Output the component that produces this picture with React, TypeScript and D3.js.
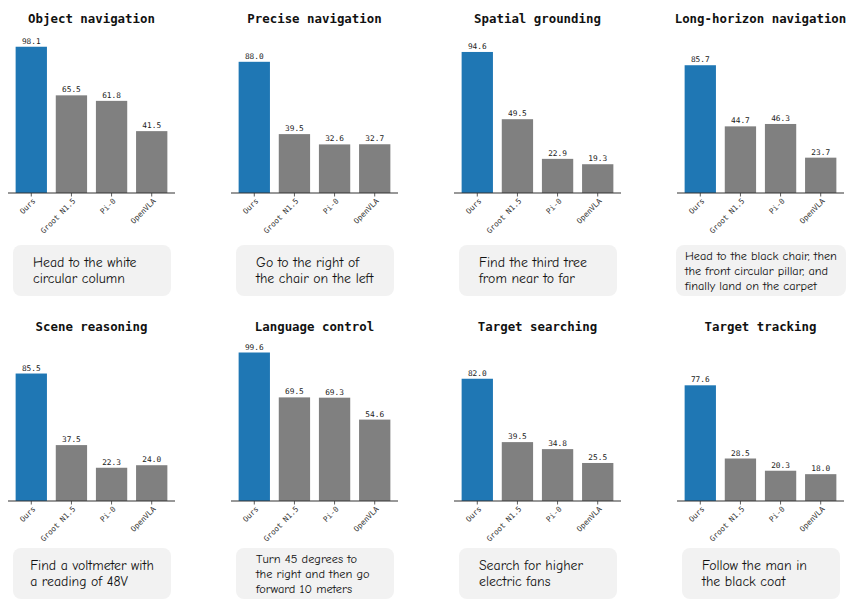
import React, { useRef, useEffect } from 'react';
import * as d3 from 'd3';

const methods = ['Ours', 'Groot N1.5', 'Pi-0', 'OpenVLA'];

const tasks = [
  'Object navigation', 'Precise navigation', 'Spatial grounding', 'Long-horizon navigation',
  'Scene reasoning', 'Language control', 'Target searching', 'Target tracking',
];

const scores = [
  [98.1, 65.5, 61.8, 41.5],
  [88.0, 39.5, 32.6, 32.7],
  [94.6, 49.5, 22.9, 19.3],
  [85.7, 44.7, 46.3, 23.7],
  [85.5, 37.5, 22.3, 24.0],
  [99.6, 69.5, 69.3, 54.6],
  [82.0, 39.5, 34.8, 25.5],
  [77.6, 28.5, 20.3, 18.0],
];

const captions = [
  ['Head to the white', 'circular column'],
  ['Go to the right of', 'the chair on the left'],
  ['Find the third tree', 'from near to far'],
  ['Head to the black chair, then', 'the front circular pillar, and', 'finally land on the carpet'],
  ['Find a voltmeter with', 'a reading of 48V'],
  ['Turn 45 degrees to', 'the right and then go', 'forward 10 meters'],
  ['Search for higher', 'electric fans'],
  ['Follow the man in', 'the black coat'],
];

const W = 865;
const H = 608;
const MONO = '"DejaVu Sans Mono", "Liberation Mono", monospace';
const HAND = '"Comic Sans MS", "Comic Neue", "Noto Sans", sans-serif';

export default function App() {
  const ref = useRef<SVGSVGElement>(null);

  useEffect(() => {
    document.body.style.margin = '0';
    const svg = d3.select(ref.current);
    svg.selectAll('*').remove();

    const y = d3.scaleLinear().domain([0, 110]);

    tasks.forEach((task, i) => {
      const col = i % 4;
      const row = Math.floor(i / 4);
      const left = 8 + col * 223;
      const base = 193 + row * 308;
      const ys = y.copy().range([base, base - 164]);
      const x = d3.scaleBand<string>()
        .domain(methods)
        .range([left, left + 167])
        .paddingInner(0.22)
        .paddingOuter(0.19);

      const g = svg.append('g');

      g.append('text')
        .attr('x', left + 83.5)
        .attr('y', base - 170)
        .attr('text-anchor', 'middle')
        .attr('font-family', MONO)
        .attr('font-weight', 'bold')
        .attr('font-size', 12.4)
        .attr('fill', '#111')
        .text(task);

      g.selectAll('rect.bar')
        .data(scores[i])
        .join('rect')
        .attr('class', 'bar')
        .attr('x', (_, j) => x(methods[j])!)
        .attr('y', d => ys(d))
        .attr('width', x.bandwidth())
        .attr('height', d => base - ys(d))
        .attr('fill', (_, j) => (j === 0 ? '#1f77b4' : '#808080'));

      g.selectAll('text.val')
        .data(scores[i])
        .join('text')
        .attr('class', 'val')
        .attr('x', (_, j) => x(methods[j])! + x.bandwidth() / 2)
        .attr('y', d => ys(d) - 3)
        .attr('text-anchor', 'middle')
        .attr('font-family', MONO)
        .attr('font-size', 7.8)
        .attr('fill', '#222')
        .text(d => d.toFixed(1));

      // bottom spine + ticks
      g.append('line')
        .attr('x1', left).attr('x2', left + 167)
        .attr('y1', base).attr('y2', base)
        .attr('stroke', '#333').attr('stroke-width', 1.2);

      methods.forEach(m => {
        const cx = x(m)! + x.bandwidth() / 2;
        g.append('line')
          .attr('x1', cx).attr('x2', cx)
          .attr('y1', base).attr('y2', base + 3.5)
          .attr('stroke', '#333').attr('stroke-width', 0.8);
        g.append('text')
          .attr('transform', `translate(${cx + 3},${base + 7}) rotate(-45)`)
          .attr('text-anchor', 'end')
          .attr('dy', '0.3em')
          .attr('font-family', MONO)
          .attr('font-size', 7.6)
          .attr('fill', '#333')
          .text(m);
      });

      // caption box
      const boxTop = row === 0 ? base + 52 : base + 47;
      const boxH = 51;
      const cxBox = left + 84;
      const box = g.append('rect')
        .attr('y', boxTop)
        .attr('height', boxH)
        .attr('rx', 8)
        .attr('fill', '#f2f2f2');

      const lines = captions[i];
      const lh = lines.length > 2 ? 15 : 16;
      const txt = g.append('text')
        .attr('font-family', HAND)
        .attr('fill', '#111')
        .attr('font-size', 10);
      lines.forEach(l => txt.append('tspan').text(l));
      const tspans = txt.selectAll<SVGTSpanElement, unknown>('tspan').nodes();
      const w10 = d3.max(tspans, n => n.getComputedTextLength()) || 100;
      const cap = lines.length > 2 ? 12.4 : 13.8;
      const fs = Math.min(cap, 10 * 152 / w10);
      const tw = w10 * fs / 10;
      const bw = Math.max(158, tw + 18);
      box.attr('x', cxBox - bw / 2).attr('width', bw);
      const tx = cxBox - bw / 2 + Math.min(20, (bw - tw) / 2);
      const midY = boxTop + boxH / 2;
      txt.attr('font-size', fs);
      txt.selectAll('tspan')
        .attr('x', tx)
        .attr('y', (_, k) => midY + (k - (lines.length - 1) / 2) * lh)
        .attr('dy', '0.35em');
    });
  }, []);

  return <svg ref={ref} width={W} height={H} style={{ display: 'block', background: '#fff' }} />;
}
